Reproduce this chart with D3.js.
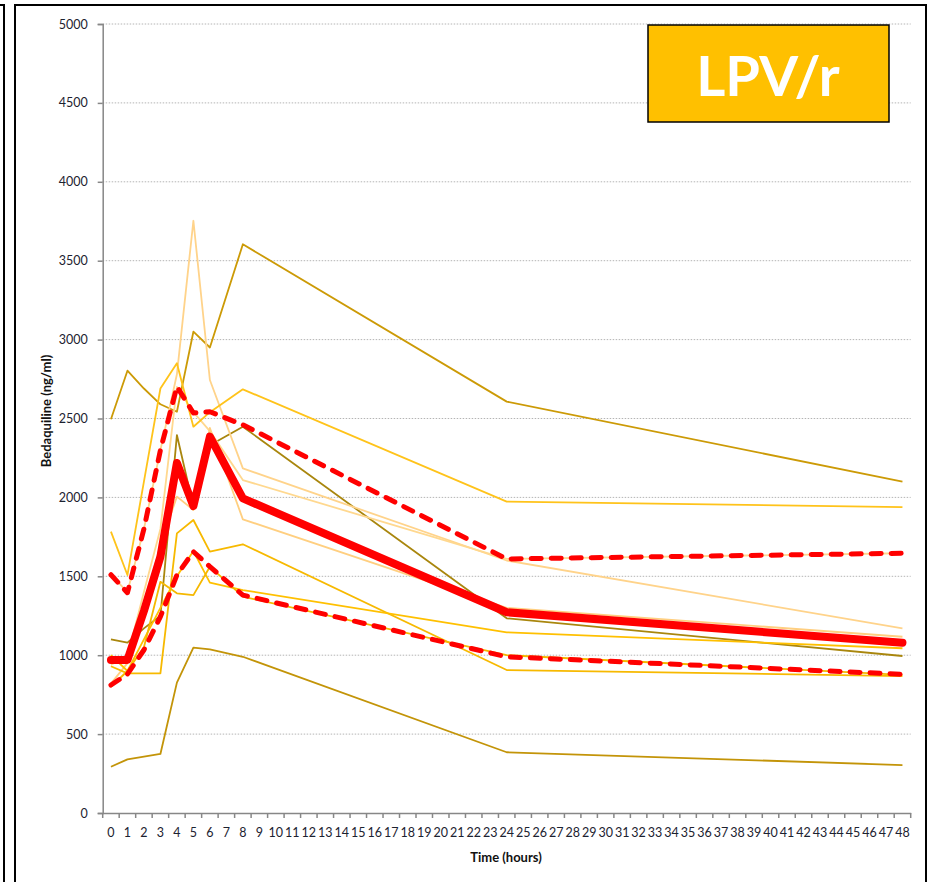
<!DOCTYPE html>
<html>
<head>
<meta charset="utf-8">
<script src="https://cdn.jsdelivr.net/npm/d3@7"></script>
<style>
  body { margin: 0; background: #fff; }
  svg { display: block; }
  text { font-family: Lato, "Open Sans", sans-serif; }
</style>
</head>
<body>
<svg id="chart" width="932" height="882"></svg>
<script>
// sampling times (hours) and the category axis 0..48
var times = [0, 1, 2, 3, 4, 5, 6, 8, 24, 48];
var categories = d3.range(0, 49);
var yTicks = [0, 500, 1000, 1500, 2000, 2500, 3000, 3500, 4000, 4500, 5000];

// individual patients (ng/ml)
var patA = [2495, 2803, 2690, 2590, 2543, 3050, 2950, 3604, 2607, 2100];
var patB = [1510, 1400, 1800, 2300, 2780, 3753, 2744, 2184, 1600, 1170];
var patC = [1783, 1508, 2100, 2690, 2850, 2448, 2540, 2685, 1973, 1939];
var patD = [1100, 1080, 1170, 1250, 2395, 1941, 2330, 2448, 1234, 995];
var patE = [293, 340, 357, 374, 826, 1048, 1037, 990, 385, 304];
var patF = [930, 885, 885, 885, 1772, 1857, 1656, 1703, 906, 868];
var patG = [940, 990, 1400, 1800, 2700, 2540, 2420, 2110, 1610, 1646];
var patH = [820, 950, 1300, 1700, 2005, 1920, 2440, 1861, 1300, 1117];
var patI = [1000, 900, 1100, 1300, 1500, 1660, 1460, 1413, 1145, 1044];
var patJ = [800, 900, 1050, 1465, 1392, 1381, 1561, 1371, 1000, 875];

// summary lines
var median = [970, 970, 1280, 1624, 2218, 1945, 2385, 1994, 1272, 1079];
var upper = [1510, 1396, 1800, 2300, 2702, 2535, 2543, 2460, 1610, 1646];
var lower = [811, 880, 1033, 1244, 1508, 1656, 1561, 1381, 990, 879];

var patients = [
  {v: patA, c: "#cc9a06"},
  {v: patE, c: "#c39408"},
  {v: patD, c: "#a9860d"},
  {v: patB, c: "#ffd38a"},
  {v: patG, c: "#ffd88f"},
  {v: patH, c: "#ffcf80"},
  {v: patC, c: "#ffc31a"},
  {v: patF, c: "#f7b900"},
  {v: patI, c: "#ffc000"},
  {v: patJ, c: "#f5b800"}
];

var svg = d3.select("#chart");

// panel frames
svg.append("path")
    .attr("d", "M0,5 H4 V882")
    .attr("fill", "none").attr("stroke", "#000").attr("stroke-width", 2);
svg.append("rect")
    .attr("x", 15).attr("y", 5).attr("width", 911).attr("height", 890)
    .attr("fill", "none").attr("stroke", "#000").attr("stroke-width", 2);

var x = d3.scaleBand().domain(categories).range([102.7, 910.7]);
var y = d3.scaleLinear().domain([0, 5000]).range([813, 24]);
function px(t) { return x(t) + x.bandwidth() / 2; }

// gridlines
svg.append("g")
  .selectAll("line")
  .data(yTicks.filter(function(d) { return d > 0; }))
  .enter().append("line")
    .attr("x1", 102.7).attr("x2", 910.7)
    .attr("y1", function(d) { return y(d); })
    .attr("y2", function(d) { return y(d); })
    .attr("stroke", "#b4b4b4")
    .attr("stroke-dasharray", "1.5,1.5");

// y axis
var yAxis = svg.append("g")
    .attr("transform", "translate(102.7,0)")
    .call(d3.axisLeft(y).tickValues(yTicks).tickFormat(d3.format("d"))
      .tickSize(5).tickPadding(10));
yAxis.select(".domain").attr("stroke", "#878787").attr("stroke-width", 1.5);
yAxis.selectAll(".tick line").attr("stroke", "#878787").attr("stroke-width", 1.5);
yAxis.selectAll("text").attr("font-size", 12.5).attr("fill", "#1c2230");

// x axis
var xAxis = svg.append("g")
    .attr("transform", "translate(0,813)")
    .call(d3.axisBottom(x).tickSize(0).tickPadding(15));
xAxis.select(".domain").attr("stroke", "#878787").attr("stroke-width", 1.5);
xAxis.selectAll("text").attr("font-size", 12.5).attr("fill", "#1c2230");
xAxis.append("g")
  .selectAll("line")
  .data(categories.concat([49]))
  .enter().append("line")
    .attr("x1", function(d) { return d < 49 ? x(d) : x(48) + x.bandwidth(); })
    .attr("x2", function(d) { return d < 49 ? x(d) : x(48) + x.bandwidth(); })
    .attr("y1", 0).attr("y2", 5)
    .attr("stroke", "#878787").attr("stroke-width", 1.5);

// axis titles
svg.append("text")
    .attr("transform", "translate(51,411) rotate(-90)")
    .attr("text-anchor", "middle")
    .attr("font-size", 13).attr("font-weight", "bold")
    .attr("fill", "#111")
    .text("Bedaquiline (ng/ml)");
svg.append("text")
    .attr("x", 506).attr("y", 862)
    .attr("text-anchor", "middle")
    .attr("font-size", 13).attr("font-weight", "bold")
    .attr("fill", "#111")
    .text("Time (hours)");

var line = d3.line()
    .x(function(d, i) { return px(times[i]); })
    .y(function(d) { return y(d); });

var plot = svg.append("g");

plot.selectAll(".pat")
  .data(patients)
  .enter().append("path")
    .attr("class", "pat")
    .attr("d", function(d) { return line(d.v); })
    .attr("fill", "none")
    .attr("stroke", function(d) { return d.c; })
    .attr("stroke-width", 1.8)
    .attr("stroke-linejoin", "round");

[upper, lower].forEach(function(s) {
  plot.append("path")
      .attr("d", line(s))
      .attr("fill", "none")
      .attr("stroke", "#ff0000")
      .attr("stroke-width", 5)
      .attr("stroke-dasharray", "10,10")
      .attr("stroke-linecap", "round")
      .attr("stroke-linejoin", "round");
});

plot.append("path")
    .attr("d", line(median))
    .attr("fill", "none")
    .attr("stroke", "#ff0000")
    .attr("stroke-width", 8)
    .attr("stroke-linecap", "round")
    .attr("stroke-linejoin", "round");

// label box
svg.append("rect")
    .attr("x", 648).attr("y", 25).attr("width", 241).attr("height", 97)
    .attr("fill", "#ffc000")
    .attr("stroke", "#000").attr("stroke-width", 1.5);
svg.append("text")
    .attr("x", 768).attr("y", 96)
    .attr("text-anchor", "middle")
    .attr("font-size", 56).attr("font-weight", "bold")
    .attr("fill", "#fff")
    .text("LPV/r");
</script>
</body>
</html>
